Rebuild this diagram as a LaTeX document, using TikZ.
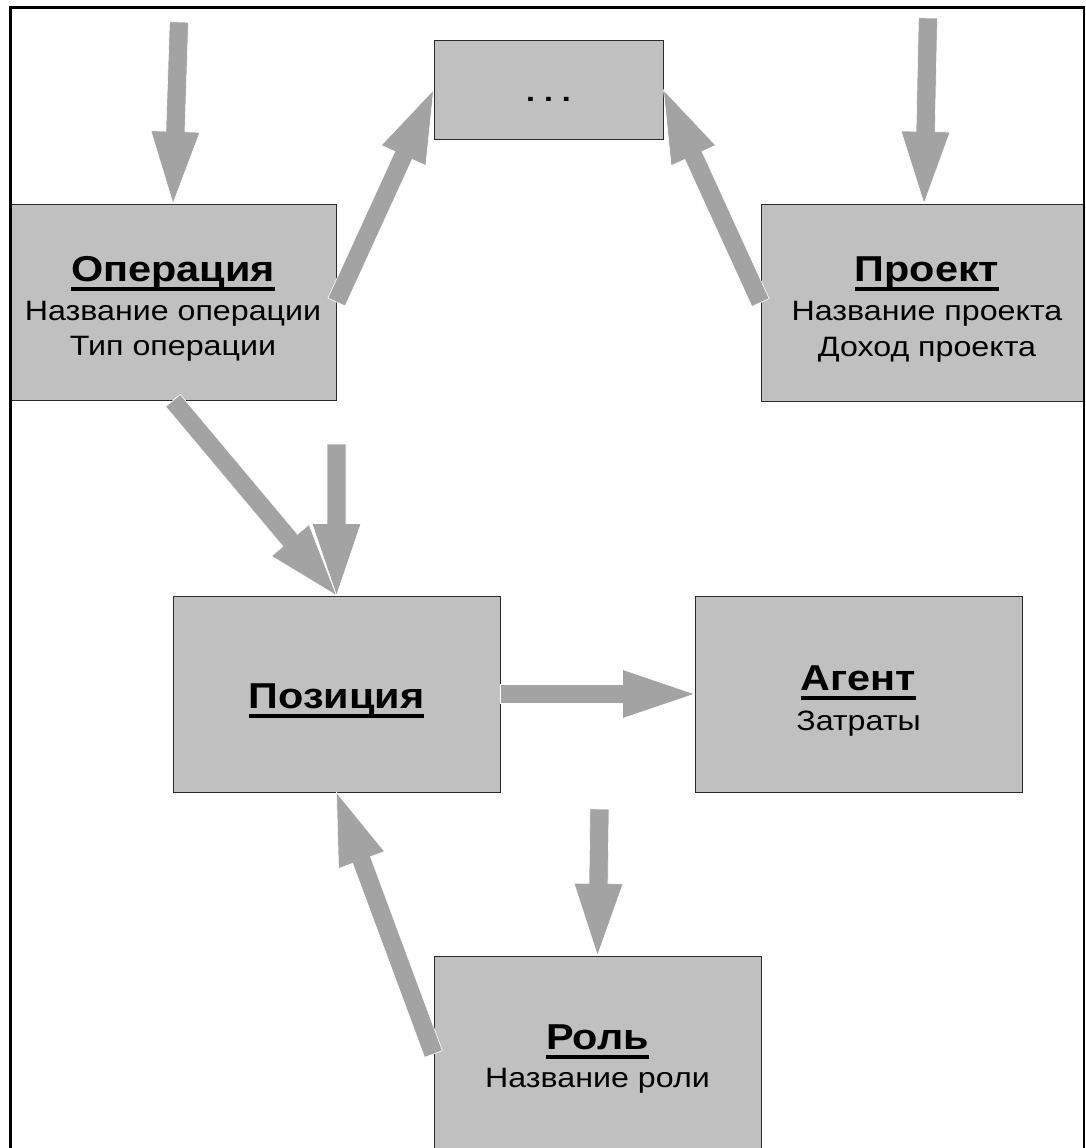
\documentclass[tikz,border=0pt]{standalone}
\usepackage{fontspec}
\setmainfont[FakeStretch=1.15]{Liberation Sans}
\usetikzlibrary{calc}

\definecolor{boxgray}{HTML}{C0C0C0}
\definecolor{arrowgray}{HTML}{A3A3A3}
\definecolor{edgegray}{HTML}{2A2A2A}

% bold, thickly underlined entity title
\newcommand\entitytitle[1]{\setbox0\hbox{#1}%
  \rlap{\rule[-10pt]{\wd0}{4pt}}\box0}

% wide block arrow from #1 (tail) to #2 (tip)
\newcommand\blockarrow[2]{%
  \path (#1) coordinate (ba-tail) (#2) coordinate (ba-tip)
        ($(ba-tip)!72pt!(ba-tail)$) coordinate (ba-base);
  \fill[arrowbody]
    ($(ba-tail)!9.5pt!90:(ba-tip)$) -- ($(ba-base)!9.5pt!-90:(ba-tail)$) --
    ($(ba-base)!24.5pt!-90:(ba-tail)$) -- (ba-tip) --
    ($(ba-base)!24.5pt!90:(ba-tail)$) -- ($(ba-base)!9.5pt!90:(ba-tail)$) --
    ($(ba-tail)!9.5pt!-90:(ba-tip)$) -- cycle;}

\tikzset{
  entity/.style={draw=edgegray, line width=1pt, fill=boxgray, inner sep=0pt},
  titletext/.style={anchor=base, inner sep=0pt, font=\fontsize{36}{40}\selectfont\bfseries},
  bodytext/.style={anchor=base, inner sep=0pt, font=\fontsize{28}{34}\selectfont},
  arrowbody/.style={fill=arrowgray, draw=white, line width=0.6pt, line join=miter},
  frameline/.style={draw=black, line width=2.5pt},
}

\begin{document}
\begin{tikzpicture}[x=1pt, y=-1pt]
  \useasboundingbox (0,0) rectangle (1085,1148);
  \fill[white] (0,0) rectangle (1085,1148);
  \clip (0,0) rectangle (1085,1148);

  % entities
  \node[entity, minimum width=326pt, minimum height=196pt] (op)    at (173,302) {};
  \node[entity, minimum width=229pt, minimum height=98pt]  (dots)  at (548.5,90) {};
  \node[entity, minimum width=332pt, minimum height=197pt] (proj)  at (927,302.5) {};
  \node[entity, minimum width=327pt, minimum height=196pt] (pos)   at (336.5,694) {};
  \node[entity, minimum width=327pt, minimum height=196pt] (agent) at (858.5,694) {};
  \node[entity, minimum width=327pt, minimum height=196pt] (role)  at (597.5,1054) {};

  % entity texts, placed by baseline
  \node[titletext] (op-title) at ($(op.center)+(0,-21)$) {\entitytitle{Операция}};
  \node[bodytext]  (op-l1)    at ($(op.center)+(0,18)$)  {Название операции};
  \node[bodytext]  (op-l2)    at ($(op.center)+(0,53)$)  {Тип операции};

  \node[bodytext]  (dots-txt) at ($(dots.center)+(0,11)$) {\bfseries .\ .\ .};

  \node[titletext] (proj-title) at ($(proj.center)+(0,-21.5)$) {\entitytitle{Проект}};
  \node[bodytext]  (proj-l1)    at ($(proj.center)+(0,17.5)$)  {Название проекта};
  \node[bodytext]  (proj-l2)    at ($(proj.center)+(0,53.5)$)  {Доход проекта};

  \node[titletext] (pos-title) at ($(pos.center)+(0,14)$) {\entitytitle{Позиция}};

  \node[titletext] (agent-title) at ($(agent.center)+(0,-4)$) {\entitytitle{Агент}};
  \node[bodytext]  (agent-l1)    at ($(agent.center)+(0,36)$) {Затраты};

  \node[titletext] (role-title) at ($(role.center)+(0,-5)$) {\entitytitle{Роль}};
  \node[bodytext]  (role-l1)    at ($(role.center)+(0,33)$) {Название роли};

  % free arrow ends
  \coordinate (opin)    at (179,22);
  \coordinate (projin)  at (928,18);
  \coordinate (projtip) at (924,203.5);
  \coordinate (posin)   at (336.5,444);
  \coordinate (rolein)  at (599.5,809);

  % connectors
  \blockarrow{opin}{op.north}
  \blockarrow{projin}{projtip}
  \blockarrow{op.east}{dots.west}
  \blockarrow{proj.west}{dots.east}
  \blockarrow{op.south}{pos.north}
  \blockarrow{posin}{pos.north}
  \blockarrow{pos.east}{agent.west}
  \blockarrow{rolein}{role.north}
  \blockarrow{role.west}{pos.south}

  % page frame, open at the bottom
  \draw[frameline] (10.3,1150) -- (10.3,7.3) -- (1084,7.3) -- (1084,1150);
\end{tikzpicture}
\end{document}
